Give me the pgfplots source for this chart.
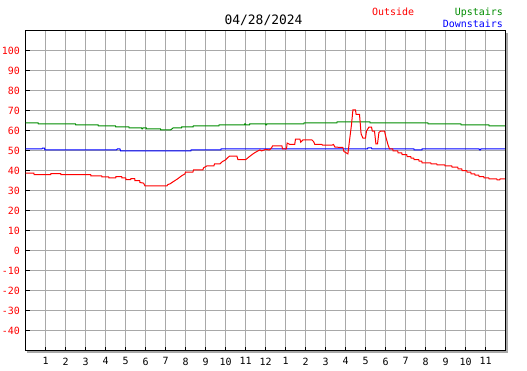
\documentclass[border=0pt]{standalone}
\usepackage{pgfplots}
\pgfplotsset{compat=1.18}
\usepackage{fontspec}
\setmainfont{DejaVu Sans Mono}
\definecolor{upgreen}{RGB}{0,140,0}
\definecolor{gridgray}{RGB}{168,168,168}
\begin{document}
\begin{tikzpicture}[x=1bp,y=1bp]
\useasboundingbox (0,0) rectangle (527,370);
\begin{axis}[name=ax, at={(25.5bp,19.5bp)}, anchor=south west,
  width=480bp, height=320bp, scale only axis,
  xmin=0, xmax=24, ymin=-50, ymax=110,
  xtick={1,...,23},
  xticklabels={1,2,3,4,5,6,7,8,9,10,11,12,1,2,3,4,5,6,7,8,9,10,11},
  ytick={-40,-30,...,100},
  yticklabels={-40,-30,-20,-10,0,10,20,30,40,50,60,70,80,90,100},
  grid=major, major grid style={draw=gridgray, line width=1bp},
  tick pos=left, tick align=inside, major tick length=4bp,
  tick style={black, line width=1bp},
  axis line style={black, line width=1.2bp},
  ticklabel style={font=\fontsize{10}{12}\selectfont, inner sep=0pt},
  yticklabel style={text=red, xshift=-5.5bp},
  xticklabel style={yshift=-7bp},
  every axis plot/.append style={line width=1bp, line join=miter, mark=none}]
\addplot[upgreen] coordinates {(0,63.8)(0.63,63.8)(0.64,63.3)(2.5,63.3)(2.51,62.8)(3.63,62.8)(3.64,62.3)(4.5,62.3)(4.51,61.8)(5.17,61.8)(5.18,61.3)(5.8,61.3)(5.82,60.8)(5.85,60.8)(5.87,61.3)(6.04,61.3)(6.05,60.8)(6.75,60.8)(6.76,60.3)(7.25,60.3)(7.32,60.8)(7.38,61.3)(7.8,61.3)(7.81,61.8)(8.38,61.8)(8.39,62.3)(9.67,62.3)(9.68,62.8)(10.95,62.8)(10.96,63.3)(11.0,63.3)(11.01,62.8)(11.2,62.8)(11.21,63.3)(12.0,63.3)(12.01,62.8)(12.05,62.8)(12.06,63.3)(13.92,63.3)(13.93,63.8)(15.57,63.8)(15.58,64.3)(17.22,64.3)(17.23,63.8)(20.12,63.8)(20.13,63.3)(21.77,63.3)(21.78,62.8)(23.17,62.8)(23.18,62.3)(24,62.3)};
\addplot[blue] coordinates {(0,50.8)(0.82,50.8)(0.85,51.2)(0.95,51.2)(0.97,50.3)(4.55,50.3)(4.6,50.8)(4.72,50.8)(4.75,49.8)(8.27,49.8)(8.28,50.3)(9.77,50.3)(9.78,50.8)(17.1,50.8)(17.12,51.3)(17.3,51.3)(17.32,50.8)(19.42,50.8)(19.43,50.3)(19.82,50.3)(19.83,50.8)(22.68,50.8)(22.7,50.3)(22.75,50.3)(22.77,50.8)(24,50.8)};
\addplot[red] coordinates {(0,38.7)(0.42,38.7)(0.43,38)(1.26,38)(1.27,38.5)(1.76,38.5)(1.77,38)(3.26,38)(3.27,37.3)(3.81,37.3)(3.82,36.8)(4.16,36.8)(4.17,36.3)(4.51,36.3)(4.52,37)(4.81,37)(4.82,36.3)(5.01,36.3)(5.02,35.5)(5.26,35.5)(5.27,36)(5.46,36)(5.47,35)(5.71,35)(5.72,34)(5.9,33.7)(5.97,32.3)(7.07,32.3)(7.12,33)(7.22,33.3)(7.4,34.5)(7.6,35.8)(7.8,37.3)(7.97,38.3)(8.0,39.2)(8.37,39.2)(8.4,40.3)(8.87,40.3)(8.9,41.3)(9.07,42.3)(9.42,42.3)(9.45,43.3)(9.72,43.3)(9.85,44.5)(10.0,45.3)(10.12,46.5)(10.2,47.2)(10.57,47.2)(10.62,45.5)(11.02,45.5)(11.2,47)(11.4,48.5)(11.6,49.7)(11.72,50.3)(11.8,49.8)(12.0,50.5)(12.2,50.3)(12.3,51.3)(12.35,52.3)(12.82,52.3)(12.85,50.8)(13.05,50.8)(13.08,53.7)(13.22,53)(13.46,53)(13.5,55.7)(13.72,55.7)(13.76,54.2)(13.87,55.3)(14.32,55.3)(14.4,54.5)(14.47,53)(14.82,53)(14.85,52.7)(15.32,52.7)(15.4,53)(15.47,51.7)(15.87,51.5)(15.92,49.5)(16.12,48.3)(16.2,55)(16.3,63)(16.37,70.3)(16.5,70.3)(16.53,68)(16.7,68)(16.78,58.3)(16.87,56.2)(17.0,56.2)(17.05,59.7)(17.17,61.7)(17.3,61.7)(17.34,59.7)(17.45,59.7)(17.52,53.3)(17.6,53.3)(17.67,59)(17.75,59.7)(17.95,59.7)(18.02,56.7)(18.12,53)(18.2,50.8)(18.36,50.8)(18.38,49.8)(18.61,49.8)(18.63,48.8)(18.81,48.8)(18.83,48)(19.06,48)(19.08,47)(19.26,47)(19.28,46.2)(19.41,46.2)(19.43,45.5)(19.66,45.5)(19.68,44.7)(19.81,44.7)(19.83,43.8)(20.26,43.8)(20.28,43.3)(20.56,43.3)(20.58,42.8)(20.96,42.8)(20.98,42.3)(21.31,42.3)(21.33,41.7)(21.61,41.7)(21.63,40.8)(21.81,40.8)(21.83,40)(22.06,40)(22.08,39.2)(22.26,39.2)(22.28,38.3)(22.46,38.3)(22.48,37.7)(22.66,37.7)(22.68,37)(22.91,37)(22.93,36.3)(23.16,36.3)(23.18,35.8)(23.56,35.8)(23.58,35.3)(23.71,35.3)(23.73,35.8)(23.97,35.8)};
\end{axis}
% frame emphasis and shadow
\draw[black, line width=1.6bp] (505.3,19.5) -- (505.3,339.5);
\fill[gridgray] (506.1,17.3) rectangle (507.5,337.5);
\fill[gridgray] (26.5,17.3) rectangle (507.5,18.8);
% title and legend
\node[anchor=base, inner sep=0pt, font=\fontsize{13}{15}\selectfont] at (263.5,345.5) {04/28/2024};
\node[anchor=base west, inner sep=0pt, text=red, font=\fontsize{10}{12}\selectfont] at (372,355) {Outside};
\node[anchor=base east, inner sep=0pt, text=upgreen, font=\fontsize{10}{12}\selectfont] at (503,355) {Upstairs};
\node[anchor=base east, inner sep=0pt, text=blue, font=\fontsize{10}{12}\selectfont] at (503,343) {Downstairs};
\end{tikzpicture}
\end{document}
